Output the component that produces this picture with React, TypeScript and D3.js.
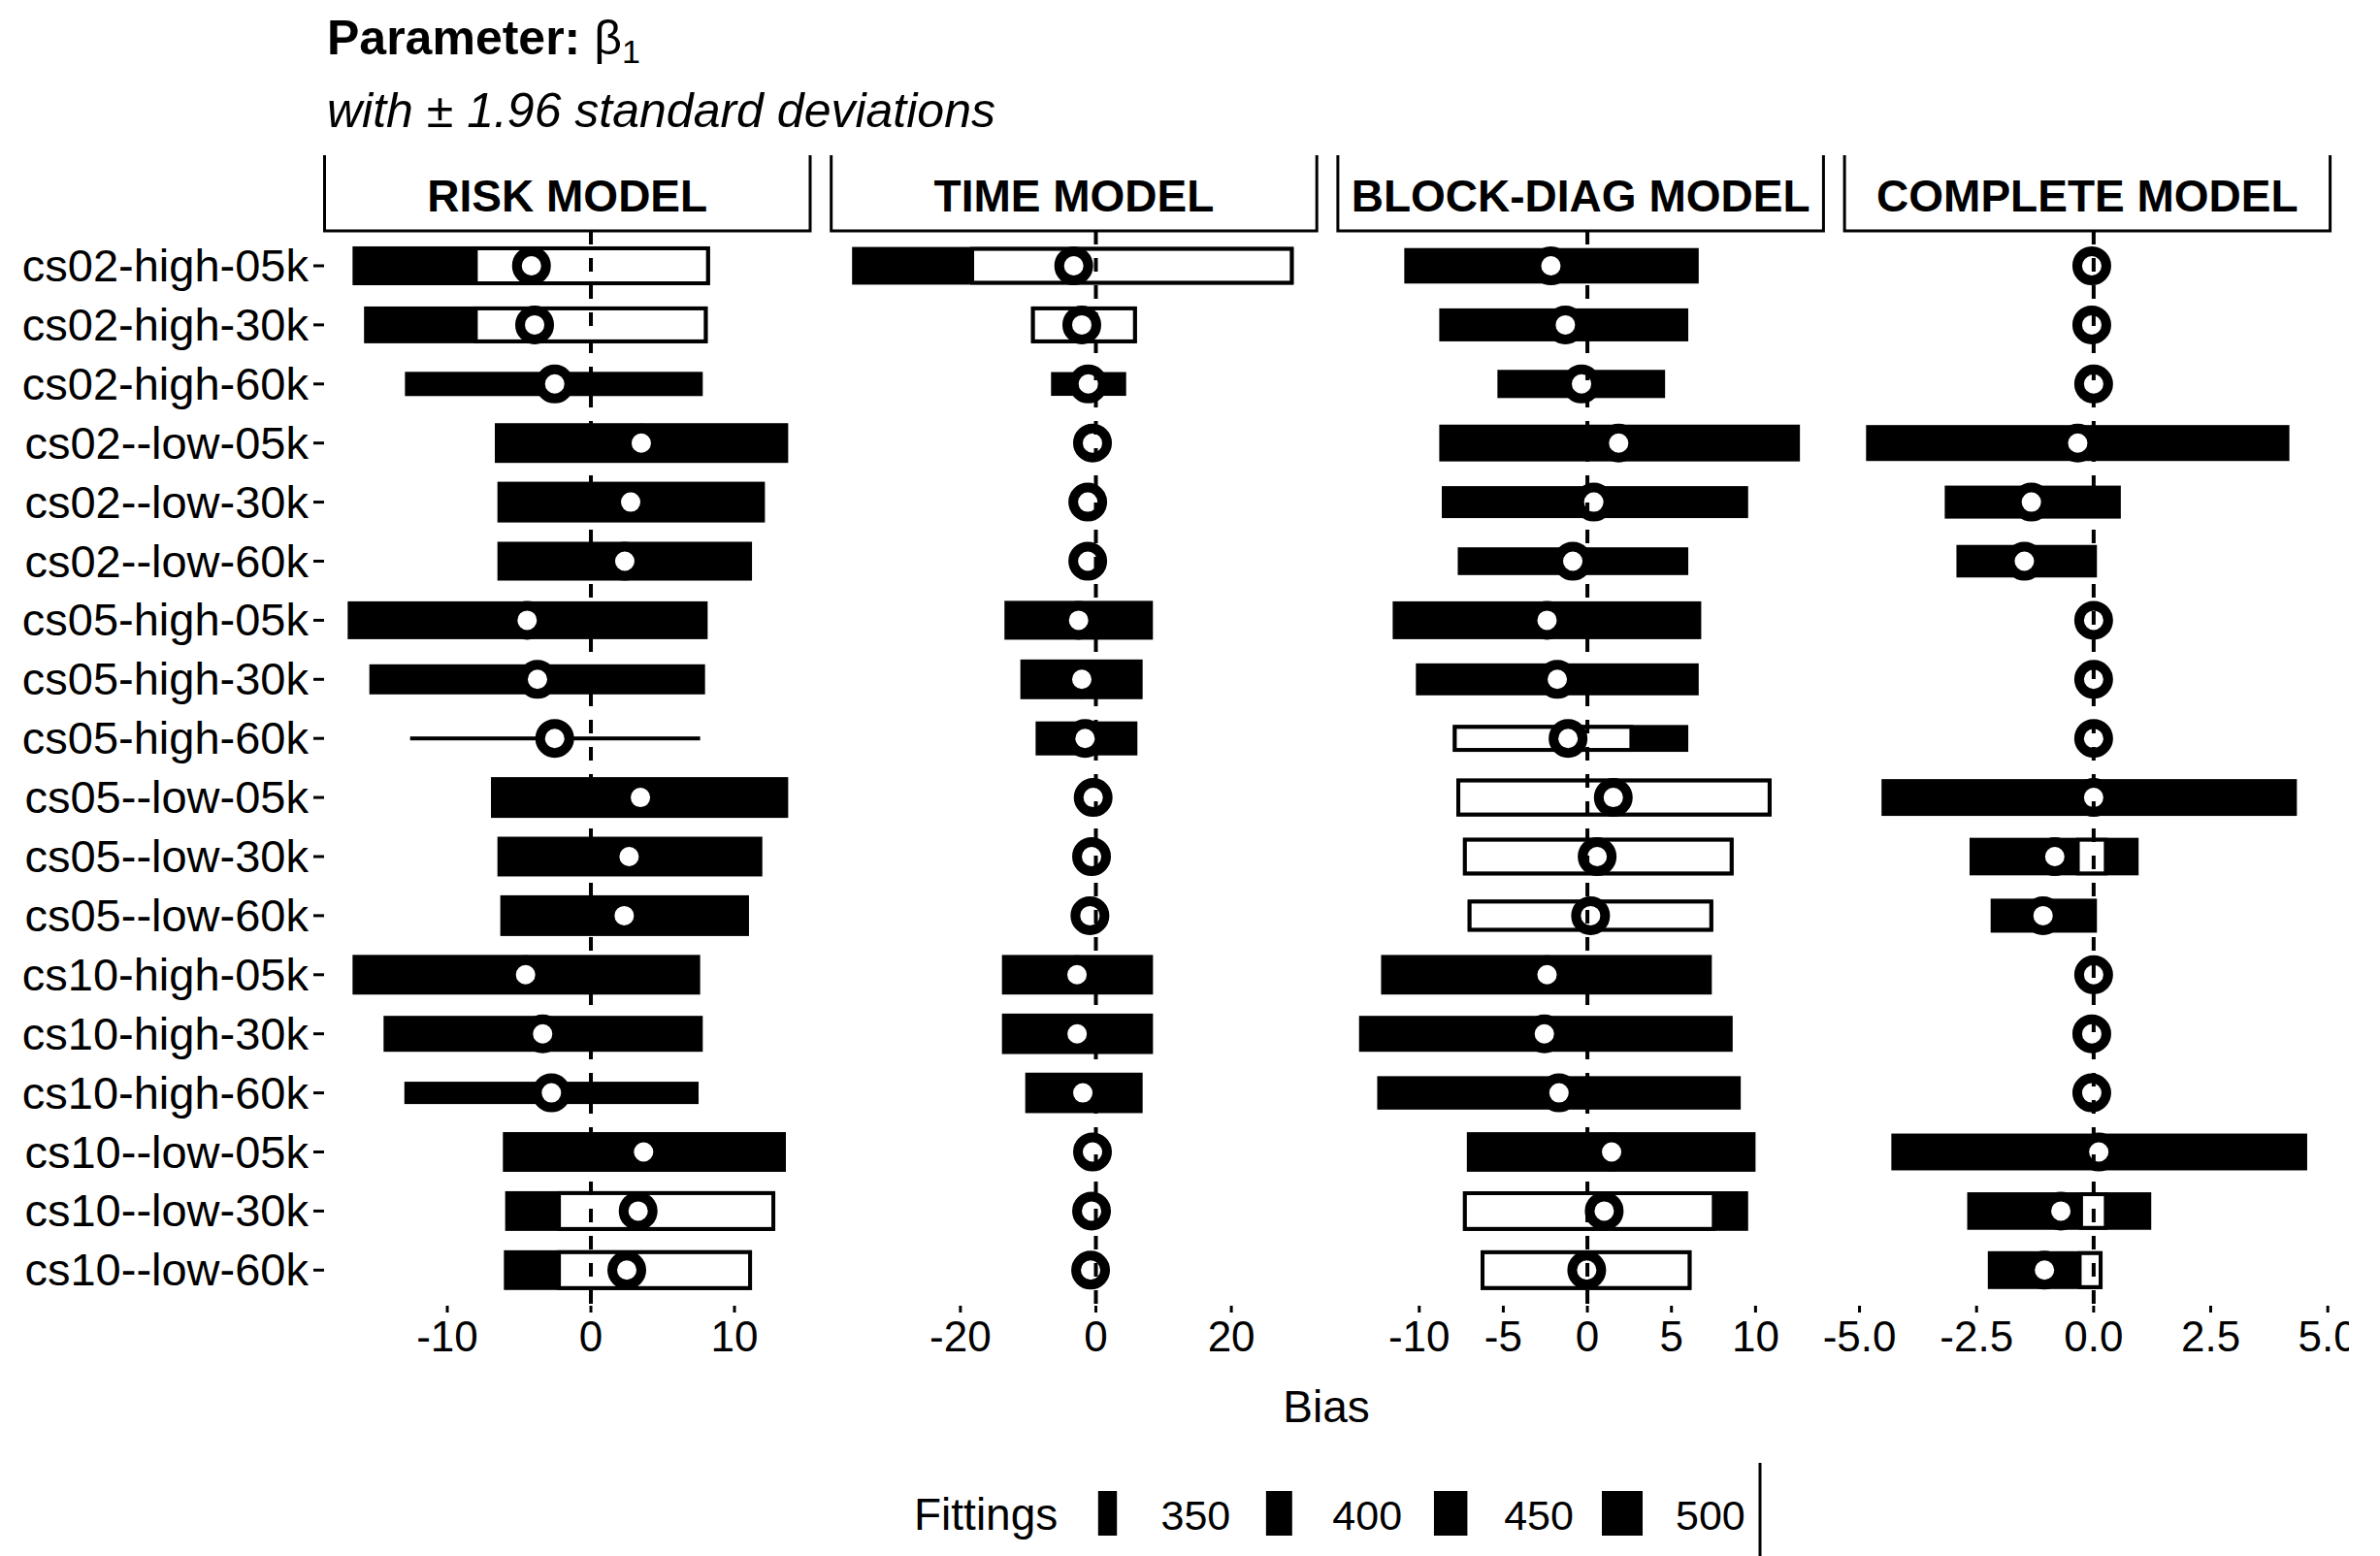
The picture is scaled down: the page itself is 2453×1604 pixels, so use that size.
import React from 'react';
import * as d3 from 'd3';

const categories = [
  'cs02-high-05k', 'cs02-high-30k', 'cs02-high-60k', 'cs02--low-05k', 'cs02--low-30k', 'cs02--low-60k',
  'cs05-high-05k', 'cs05-high-30k', 'cs05-high-60k', 'cs05--low-05k', 'cs05--low-30k', 'cs05--low-60k',
  'cs10-high-05k', 'cs10-high-30k', 'cs10-high-60k', 'cs10--low-05k', 'cs10--low-30k', 'cs10--low-60k',
];

const panelTitles = ['RISK MODEL', 'TIME MODEL', 'BLOCK-DIAG MODEL', 'COMPLETE MODEL'];

// RISK MODEL
const riskEst = [-4.14, -3.92, -2.52, 3.51, 2.77, 2.36, -4.44, -3.72, -2.52, 3.45, 2.66, 2.32, -4.55, -3.36, -2.75, 3.67, 3.29, 2.5];
const riskLo = [-16.6, -15.8, -12.95, -6.69, -6.51, -6.51, -16.94, -15.43, -12.59, -6.96, -6.51, -6.31, -16.6, -14.44, -12.99, -6.13, -5.97, -6.06];
const riskHi = [8.29, 8.13, 7.79, 13.74, 12.12, 11.22, 8.13, 7.95, 7.61, 13.74, 11.94, 11.01, 7.61, 7.79, 7.5, 13.58, 12.84, 11.22];
const riskFit = [487, 473, 387, 493, 500, 487, 480, 427, 248, 500, 493, 500, 493, 467, 374, 493, 493, 493];
const riskLightLo = [-8.15, -8.15, null, null, null, null, null, null, null, null, null, null, null, null, null, null, -2.36, -2.36];
const riskLightHi = [8.29, 8.13, null, null, null, null, null, null, null, null, null, null, null, null, null, null, 12.84, 11.22];

// TIME MODEL
const timeEst = [-3.27, -2.08, -1.12, -0.5, -1.2, -1.2, -2.55, -2.08, -1.6, -0.4, -0.64, -0.88, -2.79, -2.77, -1.93, -0.5, -0.64, -0.78];
const timeLo = [-36.0, -9.57, -6.62, -1.0, -1.7, -1.7, -13.5, -11.15, -8.9, -0.9, -1.1, -1.4, -13.87, -13.87, -10.43, -1.0, -1.1, -1.3];
const timeHi = [29.2, 6.05, 4.47, 0.0, -0.7, -0.7, 8.42, 6.9, 6.13, 0.1, -0.1, -0.4, 8.43, 8.43, 6.9, 0.0, -0.1, -0.3];
const timeFit = [479, 473, 384, 450, 450, 450, 487, 493, 454, 450, 450, 450, 492, 498, 498, 450, 450, 450];
const timeLightLo = [-18.55, -9.57, null, null, null, null, null, null, null, null, null, null, null, null, null, null, null, null];
const timeLightHi = [29.2, 6.05, null, null, null, null, null, null, null, null, null, null, null, null, null, null, null, null];

// BLOCK-DIAG MODEL
const blockEst = [-2.17, -1.31, -0.35, 1.86, 0.38, -0.87, -2.4, -1.79, -1.15, 1.54, 0.58, 0.19, -2.4, -2.56, -1.69, 1.44, 1.0, -0.04];
const blockLo = [-10.89, -8.81, -5.35, -8.81, -8.66, -7.71, -11.58, -10.2, -8.0, -7.79, -7.4, -7.12, -12.27, -13.58, -12.5, -7.17, -7.4, -6.35];
const blockHi = [6.62, 6.0, 4.62, 12.64, 9.56, 6.0, 6.77, 6.62, 6.0, 10.95, 8.69, 7.48, 7.4, 8.64, 9.12, 10.0, 9.56, 6.19];
const blockFit = [464, 447, 414, 473, 440, 411, 480, 440, 405, 480, 478, 440, 492, 467, 450, 492, 492, 492];
const blockLightLo = [null, null, null, null, null, null, null, null, -8.0, -7.79, -7.4, -7.12, null, null, null, null, -7.4, -6.35];
const blockLightHi = [null, null, null, null, null, null, null, null, 2.73, 10.95, 8.69, 7.48, null, null, null, null, 7.63, 6.19];

// COMPLETE MODEL
const completeEst = [-0.04, -0.04, 0.0, -0.34, -1.33, -1.48, 0.0, 0.0, 0.0, 0.0, -0.83, -1.08, 0.0, -0.04, -0.04, 0.11, -0.7, -1.05];
const completeLo = [-0.14, -0.14, -0.1, -4.86, -3.18, -2.93, -0.1, -0.1, -0.1, -4.53, -2.65, -2.2, -0.1, -0.14, -0.14, -4.32, -2.7, -2.26];
const completeHi = [0.06, 0.06, 0.1, 4.18, 0.58, 0.07, 0.1, 0.1, 0.1, 4.34, 0.96, 0.07, 0.1, 0.06, 0.06, 4.56, 1.23, 0.19];
const completeFit = [450, 450, 450, 467, 447, 444, 450, 450, 450, 473, 478, 454, 450, 450, 450, 473, 478, 480];
const completeLightLo = [null, null, null, null, null, null, null, null, null, null, -0.38, null, null, null, null, null, -0.31, -0.34];
const completeLightHi = [null, null, null, null, null, null, null, null, null, null, 0.3, null, null, null, null, null, 0.3, 0.19];

const riskTicks = [-10, 0, 10];
const timeTicks = [-20, 0, 20];
const blockTicks = [-10, -5, 0, 5, 10];
const completeTicks = [-5, -2.5, 0, 2.5, 5];

const riskDomain = [-18.55, 15.27];
const timeDomain = [-39.08, 32.62];
const blockDomain = [-14.84, 14.04];
const completeDomain = [-5.32, 5.05];

const legendFittings = [350, 400, 450, 500];

const FONT = '"Liberation Sans", Arial, Helvetica, sans-serif';

const locale = d3.formatLocale({ decimal: '.', thousands: ',', grouping: [3], currency: ['$', ''], minus: '-' });

export default function App() {
  const W = 2453;
  const H = 1604;
  const panelLeft0 = 334.5;
  const panelW = 500.5;
  const panelGap = 21.7;
  const plotTop = 238;
  const plotBottom = 1346;
  const stripTop = 160;

  const y = d3.scalePoint<string>().domain(categories).range([274, 1309.3]);
  const thick = d3.scaleLinear().domain([350, 500]).range([19.4, 42]);

  const panels = [
    { title: panelTitles[0], est: riskEst, lo: riskLo, hi: riskHi, fit: riskFit, llo: riskLightLo, lhi: riskLightHi, ticks: riskTicks, domain: riskDomain, fmt: locale.format('d') },
    { title: panelTitles[1], est: timeEst, lo: timeLo, hi: timeHi, fit: timeFit, llo: timeLightLo, lhi: timeLightHi, ticks: timeTicks, domain: timeDomain, fmt: locale.format('d') },
    { title: panelTitles[2], est: blockEst, lo: blockLo, hi: blockHi, fit: blockFit, llo: blockLightLo, lhi: blockLightHi, ticks: blockTicks, domain: blockDomain, fmt: locale.format('d') },
    { title: panelTitles[3], est: completeEst, lo: completeLo, hi: completeHi, fit: completeFit, llo: completeLightLo, lhi: completeLightHi, ticks: completeTicks, domain: completeDomain, fmt: locale.format('.1f') },
  ];

  const legendX = d3.scalePoint<number>().domain(legendFittings).range([1141.5, 1672]);

  return (
    <svg width={W} height={H} style={{ position: 'absolute', left: 0, top: 0, background: '#fff' }} fontFamily={FONT}>
      <defs>
        <clipPath id="pageclip">
          <rect x={0} y={0} width={2421} height={H} />
        </clipPath>
      </defs>
      <rect x={0} y={0} width={W} height={H} fill="#fff" />
      <g clipPath="url(#pageclip)">
        {/* Title */}
        <text x={337} y={56} fontSize={50} fontWeight="bold" fill="#000">
          Parameter: <tspan fontWeight="normal">β</tspan><tspan fontSize={34} dy={9} fontWeight="normal">1</tspan>
        </text>
        <text x={337} y={131} fontSize={50} fontStyle="italic" fill="#000">with ± 1.96 standard deviations</text>

        {/* Y axis labels */}
        {categories.map((c) => (
          <g key={c}>
            <text x={318} y={(y(c) as number) + 16} fontSize={47} textAnchor="end" fill="#000">{c}</text>
            <line x1={323} x2={334} y1={y(c)} y2={y(c)} stroke="#000" strokeWidth={3} />
          </g>
        ))}

        {panels.map((p, pi) => {
          const left = panelLeft0 + pi * (panelW + panelGap);
          const right = left + panelW;
          const x = d3.scaleLinear().domain(p.domain).range([left, right]);
          return (
            <g key={p.title}>
              {/* strip */}
              <path d={`M${left},${stripTop} L${left},${plotTop} L${right},${plotTop} L${right},${stripTop}`} fill="none" stroke="#000" strokeWidth={3} />
              <text x={(left + right) / 2} y={218} fontSize={46} fontWeight="bold" textAnchor="middle" fill="#000">{p.title}</text>

              {/* bars */}
              {categories.map((c, i) => {
                const cy = y(c) as number;
                const t = thick(p.fit[i]);
                const x0 = x(p.lo[i]);
                const x1 = x(p.hi[i]);
                const llo = p.llo[i];
                const lhi = p.lhi[i];
                return (
                  <g key={c}>
                    <rect x={x0} y={cy - t / 2} width={Math.max(1, x1 - x0)} height={t} fill="#000" />
                    {llo !== null && lhi !== null && (
                      <rect x={x(llo) + 2} y={cy - t / 2 + 2} width={Math.max(0, x(lhi) - x(llo) - 4)} height={t - 4} fill="#fff" stroke="#000" strokeWidth={4} />
                    )}
                  </g>
                );
              })}

              {/* points */}
              {categories.map((c, i) => (
                <circle key={c} cx={x(p.est[i])} cy={y(c)} r={15} fill="#fff" stroke="#000" strokeWidth={10} />
              ))}

              {/* zero line */}
              <line x1={x(0)} x2={x(0)} y1={plotTop} y2={plotBottom} stroke="#000" strokeWidth={4} strokeDasharray="14 14" />

              {/* x axis */}
              {p.ticks.map((tv) => (
                <g key={tv}>
                  <line x1={x(tv)} x2={x(tv)} y1={plotBottom} y2={plotBottom + 7} stroke="#000" strokeWidth={3} />
                  <text x={x(tv)} y={1393} fontSize={44} textAnchor="middle" fill="#000">{p.fmt(tv)}</text>
                </g>
              ))}
            </g>
          );
        })}

        {/* x label */}
        <text x={1367} y={1466} fontSize={46} textAnchor="middle" fill="#000">Bias</text>

        {/* Legend */}
        <text x={942} y={1577} fontSize={46} fill="#000">Fittings</text>
        {legendFittings.map((f) => {
          const cx = legendX(f) as number;
          const w = thick(f);
          return (
            <g key={f}>
              <rect x={cx - w / 2} y={1537} width={w} height={46} fill="#000" />
              <text x={cx + 55} y={1577} fontSize={43} fill="#000">{f}</text>
            </g>
          );
        })}
        <line x1={1814} x2={1814} y1={1508} y2={1604} stroke="#000" strokeWidth={3} />
      </g>
    </svg>
  );
}
